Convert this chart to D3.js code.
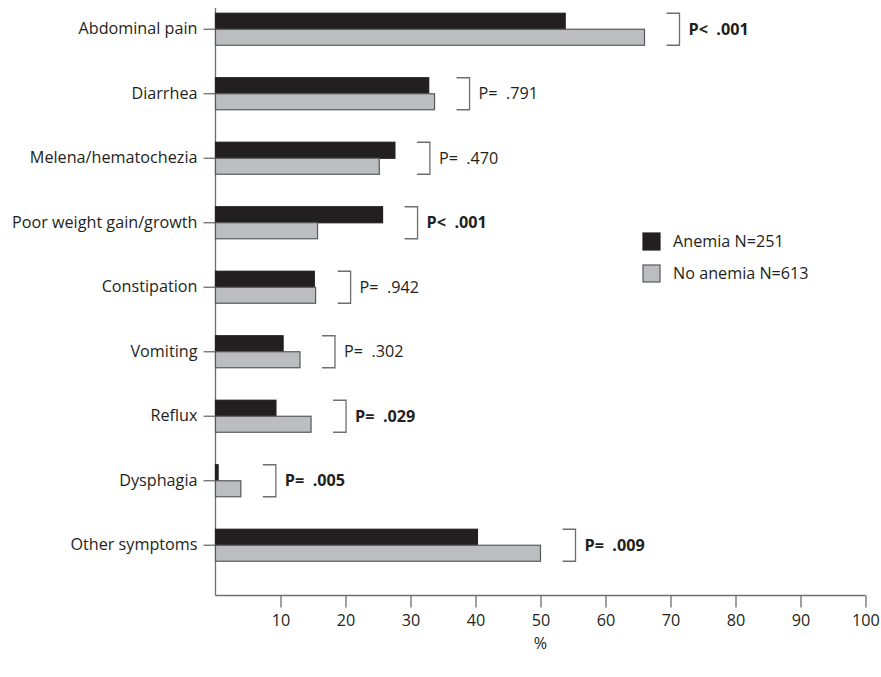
<!DOCTYPE html>
<html>
<head>
<meta charset="utf-8">
<script src="https://cdn.jsdelivr.net/npm/d3@7"></script>
<style>
  html, body { margin: 0; padding: 0; background: #fff; }
  svg { display: block; }
  text { font-family: "Open Sans", "Noto Sans", sans-serif; fill: #231f20; }
</style>
</head>
<body>
<svg id="chart" width="881" height="677"></svg>
<script>
// Symptom prevalence (%) by anemia status, with p-values for each comparison
const symptoms = ["Abdominal pain", "Diarrhea", "Melena/hematochezia", "Poor weight gain/growth",
                  "Constipation", "Vomiting", "Reflux", "Dysphagia", "Other symptoms"];
const anemia   = [53.8, 32.8, 27.6, 25.7, 15.2, 10.4, 9.3, 0.4, 40.3];
const noAnemia = [66.0, 33.7, 25.2, 15.7, 15.4, 13.0, 14.7, 3.9, 50.0];
const pLabels  = ["P< .001", "P= .791", "P= .470", "P< .001", "P= .942", "P= .302", "P= .029", "P= .005", "P= .009"];
const pSignificant = [true, false, false, true, false, false, true, true, true];
const seriesNames = ["Anemia N=251", "No anemia N=613"];
const xTicks = [10, 20, 30, 40, 50, 60, 70, 80, 90, 100];

const colors = ["#231f20", "#bcbdc0"];
const strokes = ["#231f20", "#58595b"];
const fontSize = 16.2;

const svg = d3.select("#chart");
const left = 215.5;
const plotBottom = 595.5;

const x = d3.scaleLinear().domain([0, 100]).range([left, left + 650]);
const y = d3.scaleBand().domain(symptoms).range([-3, plotBottom - 18]);
const barH = 16;

// x axis
const xAxis = d3.axisBottom(x).tickValues(xTicks).tickSize(12).tickSizeOuter(0).tickPadding(7);
const gx = svg.append("g").attr("transform", `translate(0,${plotBottom})`).call(xAxis);
gx.select(".domain").remove();
gx.append("line").attr("x1", left).attr("x2", x(100)).attr("y1", 0).attr("y2", 0)
  .attr("stroke", "#6d6e71").attr("stroke-width", 1.3);
gx.selectAll(".tick line").attr("stroke", "#6d6e71").attr("stroke-width", 1.3);
gx.selectAll(".tick text").attr("font-size", fontSize).style("font-family", "'Open Sans', sans-serif").attr("fill", "#231f20");

// y axis
const yAxis = d3.axisLeft(y).tickSize(12).tickSizeOuter(0).tickPadding(6);
const gy = svg.append("g").attr("transform", `translate(${left},0)`).call(yAxis);
gy.select(".domain").remove();
gy.append("line").attr("x1", 0).attr("x2", 0).attr("y1", 8).attr("y2", plotBottom)
  .attr("stroke", "#6d6e71").attr("stroke-width", 1.3);
gy.selectAll(".tick line").attr("stroke", "#6d6e71").attr("stroke-width", 1.3);
gy.selectAll(".tick text").attr("font-size", fontSize).style("font-family", "'Open Sans', sans-serif").attr("fill", "#231f20");

// bars: anemia on top, no anemia below each category tick
const rows = symptoms.map((s, i) => ({ s, vals: [anemia[i], noAnemia[i]], p: pLabels[i], bold: pSignificant[i] }));
const cy = s => y(s) + y.bandwidth() / 2;

const row = svg.append("g").selectAll("g").data(rows).join("g");
row.selectAll("rect").data(d => d.vals.map((v, k) => ({ s: d.s, v, k }))).join("rect")
  .attr("x", x(0))
  .attr("y", d => cy(d.s) - barH + d.k * barH)
  .attr("width", d => x(d.v) - x(0))
  .attr("height", barH)
  .attr("fill", d => colors[d.k])
  .attr("stroke", d => strokes[d.k])
  .attr("stroke-width", 1.2);

// significance brackets with p-values
const gapPx = 22, brW = 13;
row.each(function(d) {
  const g = d3.select(this);
  const bx = x(Math.max(...d.vals)) + gapPx;
  const c = cy(d.s);
  g.append("path")
    .attr("d", `M${bx},${c - barH}H${bx + brW}V${c + barH}H${bx}`)
    .attr("fill", "none").attr("stroke", "#6d6e71").attr("stroke-width", 1.3);
  g.append("text")
    .attr("x", bx + brW + 9).attr("y", c).attr("dy", "0.35em")
    .attr("font-size", fontSize)
    .attr("font-weight", d.bold ? 700 : 400)
    .style("white-space", "pre")
    .text(d.p.replace(" ", "  "));
});

// legend
const legend = svg.append("g").attr("transform", "translate(643,233)");
seriesNames.forEach((name, k) => {
  const lg = legend.append("g").attr("transform", `translate(0,${k * 32})`);
  lg.append("rect").attr("width", 17).attr("height", 17)
    .attr("fill", colors[k]).attr("stroke", strokes[k]).attr("stroke-width", 1.2);
  lg.append("text").attr("x", 30).attr("y", 8.5).attr("dy", "0.35em")
    .attr("font-size", fontSize).text(name);
});

// axis title
svg.append("text").attr("x", x(50)).attr("y", 643).attr("dy", "0.35em")
  .attr("text-anchor", "middle").attr("font-size", fontSize).text("%");
</script>
</body>
</html>
